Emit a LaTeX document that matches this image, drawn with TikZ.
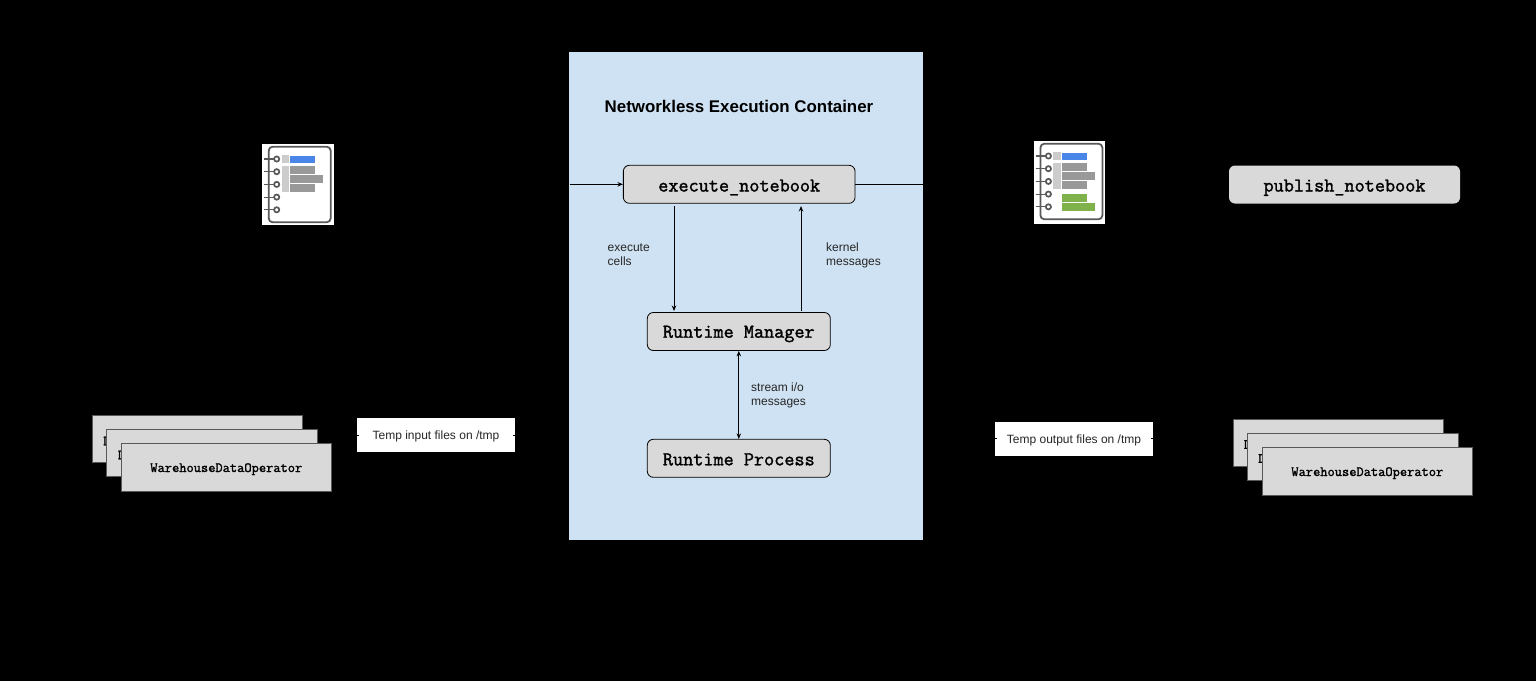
\documentclass[tikz,border=0pt]{standalone}
\usepackage{fontspec}
\setmainfont{Liberation Sans}
\newfontfamily\codefont[FakeBold=1.6]{Latin Modern Mono}
\usetikzlibrary{arrows.meta,calc}
\definecolor{panelblue}{HTML}{CFE2F3}
\definecolor{boxgrey}{HTML}{D9D9D9}
\definecolor{iconline}{HTML}{595959}
\definecolor{iconpale}{HTML}{CCCCCC}
\definecolor{iconbar}{HTML}{999999}
\definecolor{iconblue}{HTML}{4A86E8}
\definecolor{icongreen}{HTML}{7FB24A}
\newcommand{\dropby}[2]{\raisebox{-#1pt}[0pt][0pt]{#2}}
\tikzset{
  x=1pt,y=-1pt,
  flowbox/.style={draw=black,line width=0.8pt,fill=boxgrey,rounded corners=6pt,inner sep=0pt,font=\codefont\fontsize{19.65}{20}\selectfont,minimum height=38pt},
  opbox/.style={draw=iconline,line width=0.8pt,fill=boxgrey,inner sep=0pt,minimum width=210.5pt,minimum height=47.2pt,font=\codefont\fontsize{14.05}{15}\selectfont},
  opstub/.style={inner sep=0pt,anchor=west,font=\codefont\fontsize{14.05}{15}\selectfont},
  filebox/.style={fill=white,inner sep=0pt,minimum width=158pt,minimum height=33.7pt,font=\fontsize{12}{14}\selectfont,text=black!85},
  note/.style={inner sep=0pt,anchor=north west,align=left,font=\fontsize{12}{14}\selectfont,text=black!85},
  link/.style={draw=black,line width=0.9pt},
  tip/.style={-{Stealth[length=5.5pt,width=4.5pt]}},
  twotip/.style={{Stealth[length=5.5pt,width=4.5pt]}-{Stealth[length=5.5pt,width=4.5pt]}},
}
\newcommand{\iconbase}{%
  \foreach \cy in {159,171.7,184.4,197.1,209.8}{
    \draw[iconline,line width=1.2pt] (264,\cy) -- (274,\cy);
    \draw[iconline,line width=1.7pt] (276.7,\cy) circle (2.6);
  }
  \draw[iconline,line width=1.8pt,rounded corners=4pt] (268.7,146.7) rectangle (330.7,222.3);
  \fill[iconpale] (281.7,155.3) rectangle (289,162.7);
  \fill[iconpale] (281.7,166) rectangle (289,192);
  \fill[iconblue] (290,155.7) rectangle (315.3,163);
  \fill[iconbar] (290,166.3) rectangle (315.3,173.7);
  \fill[iconbar] (290,175.3) rectangle (323.3,182.7);
  \fill[iconbar] (290,184.3) rectangle (315.3,191.7);
}
\begin{document}
\begin{tikzpicture}
\useasboundingbox (0,0) rectangle (1536,681);
\fill[black] (0,0) rectangle (1536,681);
% container
\node[fill=panelblue,inner sep=0pt,minimum width=353.9pt,minimum height=488pt] (panel) at (746.05,296) {};
\node[inner sep=0pt,font=\bfseries\fontsize{16.9}{18}\selectfont] (paneltitle) at (739,106) {Networkless Execution Container};
% flow boxes
\node[flowbox,minimum width=231.7pt] (exec) at (739.2,184.3) {\dropby{7.2}{execute\_notebook}};
\node[flowbox,minimum width=183pt] (mgr) at (738.8,331.5) {\dropby{6.2}{Runtime Manager}};
\node[flowbox,minimum width=183pt] (proc) at (738.8,458.3) {\dropby{7}{Runtime Process}};
\node[flowbox,draw=none,minimum width=231pt] (pub) at (1344.5,184.5) {\dropby{7}{publish\_notebook}};
% connectors in the container
\coordinate (inleft) at (569.5,184.3);
\coordinate (outright) at (923,184.3);
\coordinate (cellstop) at (674,206);
\coordinate (cellsend) at (674,311);
\coordinate (kernstart) at (801,311);
\coordinate (kernend) at (801,206);
\draw[link,tip] (inleft) -- (exec.west);
\draw[link] (exec.east) -- (outright);
\draw[link,tip] (cellstop) -- (cellsend);
\draw[link,tip] (kernstart) -- (kernend);
\draw[link,twotip] (mgr.south) -- (proc.north);
\node[note] (cellslabel) at (607.5,244) {execute\\cells};
\node[note] (kernlabel) at (826,243) {kernel\\messages};
\node[note] (streamlabel) at (751,383) {stream i/o\\messages};
% icons
\fill[white] (262.3,144) rectangle (334,225);
\iconbase
\fill[white] (1034,141) rectangle (1105,224);
\begin{scope}[shift={(771.7,-3)}]
  \iconbase
  \fill[icongreen] (290,197) rectangle (315.3,204.7);
  \fill[icongreen] (290,206.3) rectangle (323,213.7);
\end{scope}
% operators left
\node[opbox] (opa) at (197.5,438.8) {};
\node[opstub] (opatext) at (103,441) {D};
\node[opbox] (opb) at (212,453) {};
\node[opstub] (opbtext) at (117.7,455) {D};
\node[opbox] (opc) at (226.3,467.3) {\dropby{4.7}{WarehouseDataOperator}};
% operators right
\node[opbox] (opd) at (1338.3,442.5) {};
\node[opstub] (opdtext) at (1243.7,444.5) {D};
\node[opbox] (ope) at (1352.7,456.5) {};
\node[opstub] (opetext) at (1258,458.5) {D};
\node[opbox] (opf) at (1367.3,471.3) {\dropby{4.7}{WarehouseDataOperator}};
% temp files
\node[filebox] (tmpin) at (436,434.9) {\dropby{4.4}{Temp input files on /tmp}};
\node[filebox] (tmpout) at (1074,439) {\dropby{4}{Temp output files on /tmp}};
% stubs of the lines that pass the file labels
\coordinate (inA) at (350,435);
\coordinate (inB) at (359,435);
\coordinate (inC) at (513,435);
\coordinate (inD) at (525,435);
\coordinate (outA) at (985,438.7);
\coordinate (outB) at (997,438.7);
\coordinate (outC) at (1151,438.7);
\coordinate (outD) at (1165,438.7);
\draw[link] (inA) -- (inB);
\draw[link] (inC) -- (inD);
\draw[link] (outA) -- (outB);
\draw[link] (outC) -- (outD);
\end{tikzpicture}
\end{document}
